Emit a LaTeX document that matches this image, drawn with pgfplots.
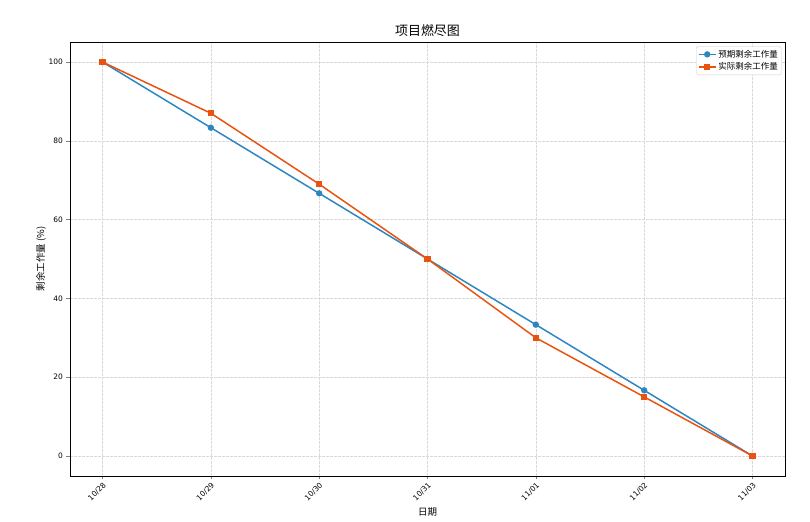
\documentclass[border=0pt]{standalone}
\usepackage{pgfplots}
\pgfplotsset{compat=1.18}
\usepackage{fontspec}
\setmainfont{DejaVu Sans}
\newfontfamily\cjk{Noto Sans CJK SC}
\definecolor{cblue}{HTML}{2E86C1}
\definecolor{corange}{HTML}{E8540F}
\begin{document}
\begin{tikzpicture}
\path[use as bounding box] (0,0) rectangle (810bp,522bp);
\begin{axis}[
  at={(70bp,46bp)}, anchor=south west,
  scale only axis, width=715bp, height=434bp,
  xmin=-0.3, xmax=6.3, ymin=-5.08, ymax=105.08,
  xtick={0,...,6},
  xticklabels={10/28,10/29,10/30,10/31,11/01,11/02,11/03},
  ytick={0,20,40,60,80,100},
  x tick label style={rotate=45, anchor=north east, inner sep=1.5pt, font=\fontsize{7.5}{8}\selectfont},
  y tick label style={font=\fontsize{7.5}{8}\selectfont},
  /pgf/number format/assume math mode=true,
  tick align=outside, tick pos=left,
  major tick length=3.5bp,
  grid=major,
  grid style={dash pattern=on 2.5bp off 1.5bp, gray!30, line width=0.5pt},
  title={\cjk 项目燃尽图},
  title style={font=\cjk\fontsize{13}{15}\selectfont, yshift=-4bp},
  xlabel={\cjk 日期},
  ylabel={\cjk 剩余工作量 (\%)},
  xlabel style={font=\cjk\fontsize{9.5}{11}\selectfont, yshift=0bp},
  ylabel style={font=\cjk\fontsize{9.5}{11}\selectfont, yshift=-4bp},
  legend style={font=\cjk\fontsize{8.5}{10}\selectfont, draw=gray!40, rounded corners=1.5pt, inner sep=1.5pt, at={(0.995,0.99)}, anchor=north east},
  legend cell align=left,
]
\addplot[cblue, line width=1.5pt, mark=*, mark size=2.4pt] coordinates {
(0,100) (1,83.33) (2,66.67) (3,50) (4,33.33) (5,16.67) (6,0)};
\addlegendentry{预期剩余工作量}
\addplot[corange, line width=1.5pt, mark=square*, mark size=2.3pt] coordinates {
(0,100) (1,87) (2,69) (3,50) (4,30) (5,15) (6,0)};
\addlegendentry{实际剩余工作量}
\end{axis}
\end{tikzpicture}
\end{document}
